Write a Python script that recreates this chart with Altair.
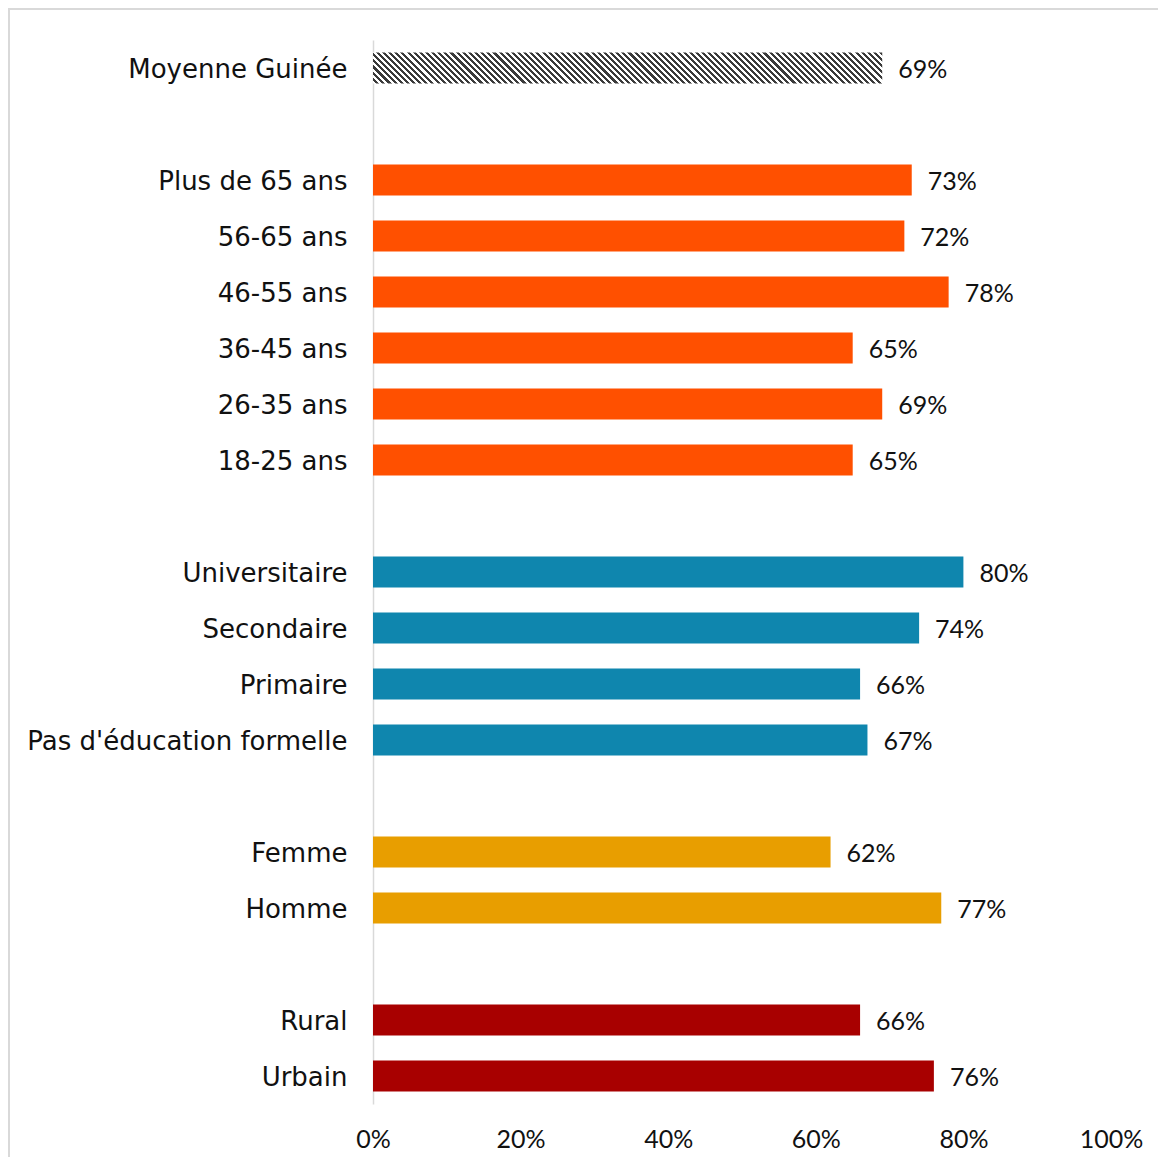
import altair as alt
import pandas as pd

# ---- data ----
categories = ["Moyenne Guinée", "Plus de 65 ans", "56-65 ans", "46-55 ans", "36-45 ans",
              "26-35 ans", "18-25 ans", "Universitaire", "Secondaire", "Primaire",
              "Pas d'éducation formelle", "Femme", "Homme", "Rural", "Urbain"]
values = [0.69, 0.73, 0.72, 0.78, 0.65, 0.69, 0.65, 0.80, 0.74, 0.66, 0.67,
          0.62, 0.77, 0.66, 0.76]
groups = ["Moyenne", "Age", "Age", "Age", "Age", "Age", "Age",
          "Education", "Education", "Education", "Education",
          "Sexe", "Sexe", "Milieu", "Milieu"]
row_order = ["Moyenne Guinée", " ",
             "Plus de 65 ans", "56-65 ans", "46-55 ans", "36-45 ans", "26-35 ans", "18-25 ans", "  ",
             "Universitaire", "Secondaire", "Primaire", "Pas d'éducation formelle", "   ",
             "Femme", "Homme", "    ",
             "Rural", "Urbain"]
group_names = ["Age", "Education", "Sexe", "Milieu"]
group_colors = ["#FF5000", "#0F86AE", "#E89E00", "#A80000"]
x_ticks = [0, 0.2, 0.4, 0.6, 0.8, 1.0]

df = pd.DataFrame({"cat": categories, "val": values, "grp": groups})

W, H = 738, 1064
FONT = "Lato"
LFONT = "DejaVu Sans"
FS = 25

# hatch pattern for the average bar (diagonal stripes via a sharp-stop gradient)
bar_w = 0.69 * W
bar_h = 56 * 0.55
ratio = bar_h / bar_w
k = (1 + ratio) / (1 + ratio ** 2)
n_per = 88
stops = []
for i in range(n_per):
    a = i / n_per
    b = (i + 0.5) / n_per
    c = (i + 1) / n_per
    stops += [alt.GradientStop(color="#ffffff", offset=a),
              alt.GradientStop(color="#ffffff", offset=b),
              alt.GradientStop(color="#3a3a3a", offset=b),
              alt.GradientStop(color="#3a3a3a", offset=c)]
hatch = alt.Gradient(gradient="linear", stops=stops, x1=0, y1=1, x2=k, y2=1 - k * ratio)

yscale = alt.Scale(domain=row_order, paddingInner=0.45, paddingOuter=0.225)
xscale = alt.Scale(domain=[0, 1], nice=False)

y_enc = alt.Y("cat:N", scale=yscale, sort=row_order,
              axis=alt.Axis(title=None, ticks=False, grid=False, domain=True,
                            domainColor="#d9d9d9", domainWidth=1.5,
                            labelFont=LFONT, labelFontSize=26, labelColor="#111111",
                            labelPadding=26, labelLimit=500, labelOffset=1.5))
x_enc = alt.X("val:Q", scale=xscale,
              axis=alt.Axis(title=None, values=x_ticks, format=".0%", ticks=False, grid=False,
                            domain=False, labelFont=FONT, labelFontSize=FS,
                            labelColor="#111111", labelPadding=23, labelFlush=False))

base = alt.Chart(df)

bars = base.transform_filter(alt.datum.grp != "Moyenne").mark_bar().encode(
    x=x_enc, y=y_enc,
    color=alt.Color("grp:N", scale=alt.Scale(domain=group_names, range=group_colors), legend=None),
)

avg_bar = base.transform_filter(alt.datum.grp == "Moyenne").mark_bar(
    fill=hatch, strokeWidth=0).encode(x=x_enc, y=y_enc)

labels = base.mark_text(align="left", baseline="middle", dx=16, dy=2,
                        font=FONT, fontSize=FS, color="#111111").encode(
    x=x_enc, y=y_enc, text=alt.Text("val:Q", format=".0%"))

frame = alt.Chart(pd.DataFrame({"k": [0]})).mark_rect(
    fill=None, stroke="#d9d9d9", strokeWidth=2).encode(
    x=alt.value(-364), x2=alt.value(W + 200), y=alt.value(-31), y2=alt.value(H + 200))

chart = alt.layer(frame, bars, avg_bar, labels).properties(
    width=W, height=H,
    autosize=alt.AutoSizeParams(type="none"),
    padding={"left": 365, "top": 32, "right": 47, "bottom": 53},
).configure(background="white").configure_view(strokeWidth=0, stroke="transparent")

chart.save("out.html", embed_options={"renderer": "svg", "actions": False})
